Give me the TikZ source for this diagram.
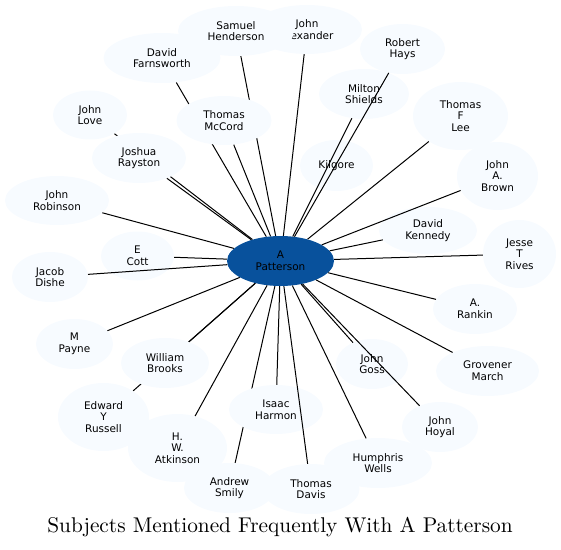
\documentclass[tikz,border=0pt]{standalone}
\usepackage{fontspec}
\newfontfamily\nodefont{DejaVu Sans}
\newfontfamily\titlefont{lmroman10-regular}[Extension=.otf]
\usetikzlibrary{shapes.geometric}
\pgfdeclarelayer{background}
\pgfsetlayers{background,main}
\definecolor{bgfill}{HTML}{F7FBFF}
\definecolor{hubfill}{HTML}{08519C}
\tikzset{
  nd/.style={ellipse, fill=bgfill, inner sep=0pt, align=center,
    font=\nodefont\fontsize{10.5}{11.7}\selectfont},
  hub/.style={nd, fill=hubfill},
  edge/.style={draw=black, line width=1bp},
}
\begin{document}
\begin{tikzpicture}[x=1bp,y=-1bp]
\useasboundingbox (0,0) rectangle (561,550);
% nodes
\node[hub, minimum width=107bp, minimum height=50bp] (c) at (280.5,261) {A\\Patterson};
\node[nd, minimum width=110bp, minimum height=49bp] (jalex) at (307,29.5) {John\\Alexander};
\node[nd, minimum width=116bp, minimum height=50bp] (shend) at (236,31) {Samuel\\Henderson};
\node[nd, minimum width=117bp, minimum height=50bp] (dfarn) at (162,58) {David\\Farnsworth};
\node[nd, minimum width=85bp, minimum height=50bp] (rhays) at (402.5,49) {Robert\\Hays};
\node[nd, minimum width=90bp, minimum height=50bp] (mshie) at (364,94) {Milton\\Shields};
\node[nd, minimum width=95bp, minimum height=68bp] (tflee) at (460.5,116) {Thomas\\F\\Lee};
\node[nd, minimum width=74bp, minimum height=49bp] (jlove) at (90,115) {John\\Love};
\node[nd, minimum width=73bp, minimum height=51bp] (kilg) at (336.5,165.5) {Kilgore};
\node[nd, minimum width=81bp, minimum height=68bp] (jbrown) at (497.5,176) {John\\A.\\Brown};
\node[nd, minimum width=104bp, minimum height=49bp] (jrob) at (57,200.5) {John\\Robinson};
\node[nd, minimum width=98bp, minimum height=47bp] (dkenn) at (428,230.5) {David\\Kennedy};
\node[nd, minimum width=73bp, minimum height=49bp] (ecott) at (137.5,256) {E\\Cott};
\node[nd, minimum width=73bp, minimum height=68bp] (jrives) at (519.5,254) {Jesse\\T\\Rives};
\node[nd, minimum width=76bp, minimum height=50bp] (jdishe) at (50,277) {Jacob\\Dishe};
\node[nd, minimum width=84bp, minimum height=50bp] (arank) at (475,309) {A.\\Rankin};
\node[nd, minimum width=77bp, minimum height=50bp] (mpayne) at (74.5,344) {M\\Payne};
\node[nd, minimum width=72bp, minimum height=50bp] (jgoss) at (372,364) {John\\Goss};
\node[nd, minimum width=103bp, minimum height=50bp] (gmarch) at (487.5,371) {Grovener\\March};
\node[nd, minimum width=91bp, minimum height=68bp] (erus) at (103.5,417) {Edward\\Y\\Russell};
\node[nd, minimum width=99bp, minimum height=68bp] (hwat) at (177.5,448) {H.\\W.\\Atkinson};
\node[nd, minimum width=76bp, minimum height=50bp] (jhoyal) at (440,427) {John\\Hoyal};
\node[nd, minimum width=108bp, minimum height=50bp] (hwells) at (378,463) {Humphris\\Wells};
\node[nd, minimum width=91bp, minimum height=50bp] (asmily) at (229.5,488) {Andrew\\Smily};
\node[nd, minimum width=97bp, minimum height=50bp] (tdavis) at (311,489) {Thomas\\Davis};
\node[nd, minimum width=94bp, minimum height=49bp] (isaac) at (276,409.5) {Isaac\\Harmon};
\node[nd, minimum width=88bp, minimum height=50bp] (wbrooks) at (165,363) {William\\Brooks};
\node[nd, minimum width=95bp, minimum height=49bp] (tmcc) at (224,120.5) {Thomas\\McCord};
\node[nd, minimum width=94bp, minimum height=50bp] (jrays) at (139,158) {Joshua\\Rayston};
% edges hidden behind other nodes
\begin{pgfonlayer}{background}
\draw[edge] (c) -- (jlove);
\draw[edge] (c) -- (dfarn);
\draw[edge] (c) -- (shend);
\draw[edge] (c) -- (erus);
\draw[edge] (c) -- (asmily);
\end{pgfonlayer}
% edges on top
\draw[edge] (c) -- (jalex);
\draw[edge] (c) -- (tmcc);
\draw[edge] (c) -- (jrays);
\draw[edge] (c) -- (rhays);
\draw[edge] (c) -- (mshie);
\draw[edge] (c) -- (tflee);
\draw[edge] (c) -- (jbrown);
\draw[edge] (c) -- (jrob);
\draw[edge] (c) -- (dkenn);
\draw[edge] (c) -- (ecott);
\draw[edge] (c) -- (jrives);
\draw[edge] (c) -- (jdishe);
\draw[edge] (c) -- (arank);
\draw[edge] (c) -- (mpayne);
\draw[edge] (c) -- (wbrooks);
\draw[edge] (c) -- (jgoss);
\draw[edge] (c) -- (gmarch);
\draw[edge] (c) -- (isaac);
\draw[edge] (c) -- (hwat);
\draw[edge] (c) -- (jhoyal);
\draw[edge] (c) -- (hwells);
\draw[edge] (c) -- (tdavis);
% title
\node[anchor=base, inner sep=0pt, font=\titlefont\fontsize{21.4}{25}\selectfont] (title) at (280,532) {Subjects Mentioned Frequently With A Patterson};
\end{tikzpicture}
\end{document}
